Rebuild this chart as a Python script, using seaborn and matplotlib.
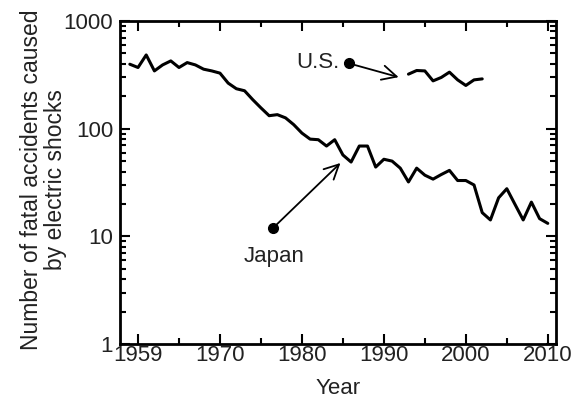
import matplotlib
matplotlib.use("Agg")
import matplotlib.pyplot as plt
import matplotlib.ticker as mticker
import seaborn as sns
import pandas as pd

# Fatal accidents caused by electric shocks, per year
japan_years = list(range(1959, 2011))
japan_values = [397, 370, 484, 344, 391, 426, 370, 411, 391, 357,
                344, 328, 265, 235, 225, 186, 156, 132, 135, 126,
                109, 91, 80, 79, 69, 79, 57, 49, 69, 69,
                44, 52, 50, 43, 32, 43, 37, 34, 37.5, 41,
                33, 33, 30, 16.6, 14.2, 22.8, 27.7, 19.8, 14.2, 20.8,
                14.6, 13.2]
us_years = list(range(1993, 2003))
us_values = [321, 347, 344, 278, 299, 335, 284, 252, 284, 290]

x_ticks = [1960, 1970, 1980, 1990, 2000, 2010]
x_tick_labels = ["1959", "1970", "1980", "1990", "2000", "2010"]
y_ticks = [1, 10, 100, 1000]
y_tick_labels = ["1", "10", "100", "1000"]

df = pd.concat([
    pd.DataFrame({"Year": japan_years, "Deaths": japan_values, "Country": "Japan"}),
    pd.DataFrame({"Year": us_years, "Deaths": us_values, "Country": "U.S."}),
])

sns.set_style("ticks")
plt.rcParams["font.family"] = ["Liberation Sans", "DejaVu Sans"]

FS = 16
TXT = "#222222"

fig = plt.figure(figsize=(5.73, 4.01), dpi=100)
ax = fig.add_axes([0.2094, 0.1421, 0.7609, 0.8055])

sns.lineplot(data=df, x="Year", y="Deaths", units="Country", estimator=None,
             color="black", linewidth=2.2, ax=ax, legend=False)

ax.set_yscale("log")
ax.set_xlim(1957.8, 2011.0)
ax.set_ylim(1, 1000)

ax.set_xticks(x_ticks)
ax.set_xticklabels(x_tick_labels)
ax.xaxis.set_minor_locator(mticker.FixedLocator([1965, 1975, 1985, 1995, 2005]))
ax.set_yticks(y_ticks)
ax.set_yticklabels(y_tick_labels)
ax.yaxis.set_minor_locator(mticker.LogLocator(base=10, subs=range(2, 10)))
ax.yaxis.set_minor_formatter(mticker.NullFormatter())

ax.tick_params(which="both", direction="in", top=True, right=True,
               width=1.5, colors="black", labelsize=FS)
ax.tick_params(axis="x", which="major", pad=1)
ax.tick_params(axis="y", which="major", pad=5)
ax.tick_params(which="major", length=7)
ax.tick_params(which="minor", length=4)
for s in ax.spines.values():
    s.set_linewidth(2)
    s.set_color("black")

ax.set_xlabel("Year", fontsize=FS, color=TXT, labelpad=8)
ax.set_ylabel("Number of fatal accidents caused\nby electric shocks",
              fontsize=16.5, color=TXT, linespacing=1.05)
ax.yaxis.set_label_coords(-0.122, 0.51)
for lbl in ax.get_xticklabels() + ax.get_yticklabels():
    lbl.set_color(TXT)

# Series labels with pointer arrows
ax.plot([1985.7], [405], "o", color="black", markersize=7)
ax.annotate("", xy=(1991.8, 301), xytext=(1985.7, 405),
            arrowprops=dict(arrowstyle="->", color="black", lw=1.3,
                            mutation_scale=26, shrinkA=0, shrinkB=0))
ax.text(1984.6, 413, "U.S.", fontsize=FS, ha="right", va="center",
        color=TXT)

ax.plot([1976.5], [12.0], "o", color="black", markersize=7)
ax.annotate("", xy=(1984.7, 48), xytext=(1976.5, 12.0),
            arrowprops=dict(arrowstyle="->", color="black", lw=1.3,
                            mutation_scale=26, shrinkA=0, shrinkB=0))
ax.text(1976.6, 6.5, "Japan", fontsize=FS, ha="center", va="center",
        color=TXT)

fig.savefig("out.png", dpi=100)
